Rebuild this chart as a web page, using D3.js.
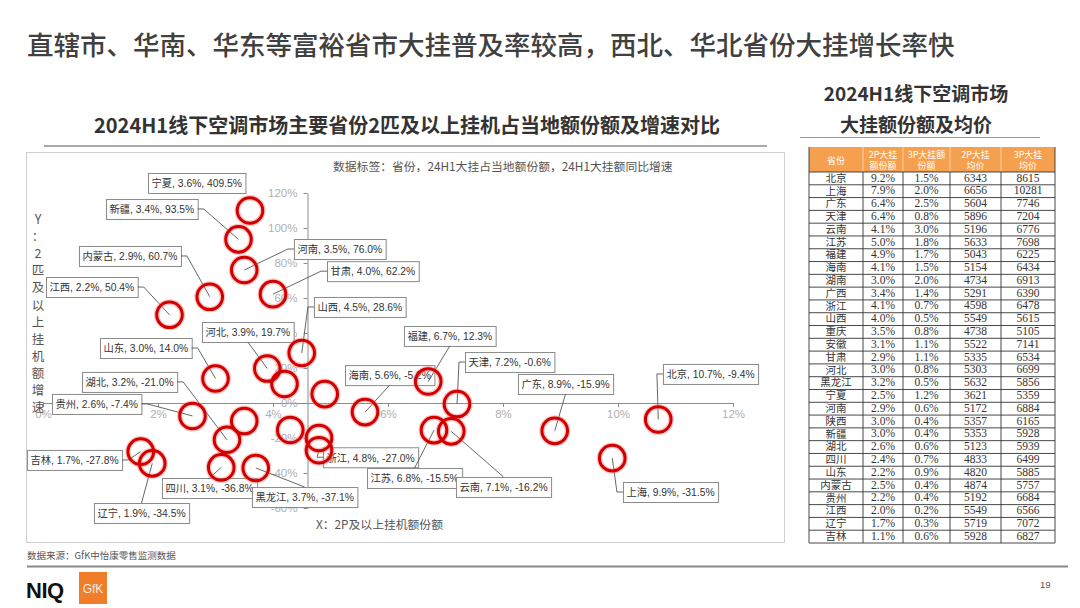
<!DOCTYPE html>
<html><head><meta charset="utf-8">
<script src="https://cdn.jsdelivr.net/npm/d3@7/dist/d3.min.js"></script>
<style>body{margin:0;background:#fff;} svg{display:block;}</style>
</head><body><svg id="c" width="1080" height="608"></svg>
<script>
// ---------- texts ----------
const pageTitle = "直辖市、华南、华东等富裕省市大挂普及率较高，西北、华北省份大挂增长率快";
const chartTitle = "2024H1线下空调市场主要省份2匹及以上挂机占当地额份额及增速对比";
const legendNote = "数据标签：省份，24H1大挂占当地额份额，24H1大挂额同比增速";
const xAxisTitle = "X：2P及以上挂机额份额";
const yAxisTitle = "Y：2匹及以上挂机额增速";
const tableTitle = ["2024H1线下空调市场", "大挂额份额及均价"];
const sourceNote = "数据来源：GfK中怡康零售监测数据";
const pageNumber = "19";

// ---------- scatter data ----------
const provinces = ["宁夏","新疆","河南","甘肃","内蒙古","江西","山西","河北","山东","福建","海南","天津","贵州","湖北","浙江","吉林","辽宁","四川","黑龙江","江苏","云南","广东","北京","上海","湖南","广西","重庆","安徽","陕西"];
const share2P = [3.6,3.4,3.5,4.0,2.9,2.2,4.5,3.9,3.0,6.7,5.6,7.2,2.6,3.2,4.8,1.7,1.9,3.1,3.7,6.8,7.1,8.9,10.7,9.9,4.9,4.3,4.8,3.5,4.2];
const growth2P = [409.5,93.5,76.0,62.2,60.7,50.4,28.6,19.7,14.0,12.3,-5.2,-0.6,-7.4,-21.0,-27.0,-27.8,-34.5,-36.8,-37.1,-15.5,-16.2,-15.9,-9.4,-31.5,5.1,-15.4,-20.0,-10.3,10.9];
const growthPlotCap = 110;      // out-of-range values drawn at the cap
const xTicks = [0,2,4,6,8,10,12];
const yTicks = [-60,-40,-20,0,20,40,60,80,100,120];
const yAxisCrossAt = 4.6;

// ---------- table data ----------
const tableHeaders = ["省份","2P大挂\n额份额","3P大挂额\n份额","2P大挂\n均价","3P大挂\n均价"];
const tableProvinces = ["北京","上海","广东","天津","云南","江苏","福建","海南","湖南","广西","浙江","山西","重庆","安徽","甘肃","河北","黑龙江","宁夏","河南","陕西","新疆","湖北","四川","山东","内蒙古","贵州","江西","辽宁","吉林"];
const tableShare2P = [9.2,7.9,6.4,6.4,4.1,5.0,4.9,4.1,3.0,3.4,4.1,4.0,3.5,3.1,2.9,3.0,3.2,2.5,2.9,3.0,3.0,2.6,2.4,2.2,2.5,2.2,2.0,1.7,1.1];
const tableShare3P = [1.5,2.0,2.5,0.8,3.0,1.8,1.7,1.5,2.0,1.4,0.7,0.5,0.8,1.1,1.1,0.8,0.5,1.2,0.6,0.4,0.4,0.6,0.7,0.9,0.4,0.4,0.2,0.3,0.6];
const tablePrice2P = [6343,6656,5604,5896,5196,5633,5043,5154,4734,5291,4598,5549,4738,5522,5335,5303,5632,3621,5172,5357,5353,5123,4833,4820,4874,5192,5549,5719,5928];
const tablePrice3P = [8615,10281,7746,7204,6776,7698,6225,6434,6913,6390,6478,5615,5105,7141,6534,6699,5856,5359,6884,6165,5928,5939,6499,5885,5757,6684,6566,7072,6827];

// ---------- label layout (offsets of label box from its point) ----------
const labelLayout = {
  "宁夏":{dx:-102,dy:-37.5,side:null}, "新疆":{dx:-132.5,dy:-40.4,side:"r"},
  "河南":{dx:49.7,dy:-31,side:"l"}, "甘肃":{dx:54,dy:-33,side:"l"},
  "内蒙古":{dx:-130.8,dy:-50.8,side:"r"}, "江西":{dx:-123.5,dy:-37.8,side:"r"},
  "山西":{dx:12.2,dy:-56,side:"l"}, "河北":{dx:-65.3,dy:-46.5,side:"b"},
  "山东":{dx:-115.5,dy:-40.5,side:"r"}, "福建":{dx:-24.3,dy:-55.5,side:"b"},
  "海南":{dx:-20,dy:-47,side:"b"}, "天津":{dx:8,dy:-52,side:"l"},
  "贵州":{dx:-140.5,dy:-22,side:"r"}, "湖北":{dx:-145,dy:-67.8,side:"r"},
  "浙江":{dx:4,dy:-3,side:"l"}, "吉林":{dx:-113.8,dy:-1.7,side:"r"},
  "辽宁":{dx:-58.3,dy:39.6,side:"t"}, "四川":{dx:-59.3,dy:10.6,side:"t"},
  "黑龙江":{dx:-3.8,dy:19.1,side:"t"}, "江苏":{dx:-67,dy:37.9,side:"t"},
  "云南":{dx:4.7,dy:45.6,side:"t"}, "广东":{dx:-36.8,dy:-56.8,side:"b"},
  "北京":{dx:4.7,dy:-55.5,side:"l"}, "上海":{dx:10.7,dy:23.9,side:"l"}
};

const svg = d3.select("#c");
const CJK = "'Noto Sans CJK SC', 'Liberation Sans', sans-serif";
const LAT = "'Liberation Sans', 'Noto Sans CJK SC', sans-serif";

svg.append("rect").attr("width",1080).attr("height",608).attr("fill","#fff");

// page title
svg.append("text").attr("x",27).attr("y",55).text(pageTitle)
  .attr("font-family",CJK).attr("font-size",26.5).attr("font-weight",500).attr("fill","#404040");

// chart subtitle + rule
svg.append("text").attr("x",407).attr("y",133).attr("text-anchor","middle").text(chartTitle)
  .attr("font-family",CJK).attr("font-size",20).attr("font-weight",700).attr("fill","#333");
svg.append("line").attr("x1",44).attr("x2",767).attr("y1",146).attr("y2",146).attr("stroke","#555").attr("stroke-width",1);

// chart frame
svg.append("rect").attr("x",26.5).attr("y",152.5).attr("width",758).attr("height",390)
  .attr("fill","none").attr("stroke","#d0d0d0");

svg.append("text").attr("x",333).attr("y",171).text(legendNote)
  .attr("font-family",CJK).attr("font-size",11.8).attr("fill","#555");

// scales
const x = d3.scaleLinear().domain([0,12]).range([43,733]);
const y = d3.scaleLinear().domain([-60,120]).range([508,193]);

const xAxis = svg.append("g").attr("transform",`translate(0,${y(0)})`)
  .call(d3.axisBottom(x).tickValues(xTicks).tickFormat(d=>d+"%").tickSize(4).tickSizeOuter(0).tickPadding(3));
const yAxis = svg.append("g").attr("transform",`translate(${x(yAxisCrossAt)},0)`)
  .call(d3.axisLeft(y).tickValues(yTicks).tickFormat(d=>d+"%").tickSize(4).tickSizeOuter(0).tickPadding(6));
[xAxis,yAxis].forEach(g=>{
  g.select(".domain").attr("stroke","#8c8c8c");
  g.selectAll(".tick line").attr("stroke","#8c8c8c");
  g.selectAll(".tick text").attr("fill","#b0b0b0").attr("font-family",LAT).attr("font-size",11.5);
});

// axis titles
svg.append("text").attr("x",316).attr("y",529).text(xAxisTitle)
  .attr("font-family",CJK).attr("font-size",11.8).attr("fill","#555");
svg.append("g").selectAll("text").data(Array.from(yAxisTitle)).join("text")
  .attr("x",38).attr("y",(d,i)=>224+i*17.1).attr("text-anchor","middle").text(d=>d)
  .attr("font-family",CJK).attr("font-size",12.5).attr("fill","#555");

// points
const pts = provinces.map((p,i)=>({
  name:p, sx:share2P[i], gy:growth2P[i],
  px:x(share2P[i]), py:y(Math.min(growth2P[i],growthPlotCap)),
  lay:labelLayout[p]
}));

const labG = svg.append("g");
const lineG = svg.append("g");
const circG = svg.append("g");

pts.filter(d=>d.lay).forEach(d=>{
  const txt = `${d.name}, ${d.sx.toFixed(1)}%, ${d.gy.toFixed(1)}%`;
  const bx = d.px + d.lay.dx, by = d.py + d.lay.dy, h = 20;
  const g = labG.append("g");
  const rect = g.append("rect").attr("x",bx+0.5).attr("y",by+0.5).attr("height",h)
    .attr("fill","#fff").attr("stroke","#8a8a8a").attr("stroke-width",1);
  const t = g.append("text").attr("x",bx+3.5).attr("y",by+14.3).text(txt)
    .attr("font-family",LAT).attr("font-size",10.3).attr("fill","#333");
  const w = t.node().getComputedTextLength() + 7;
  rect.attr("width",w);
  let pathPts;
  const s = d.lay.side;
  if (s==="l") pathPts = [[bx,by+h/2],[bx-6,by+h/2],[d.px,d.py]];
  else if (s==="r") pathPts = [[bx+w,by+h/2],[bx+w+6,by+h/2],[d.px,d.py]];
  else if (s==="t") pathPts = [[bx+w/2,by],[d.px,d.py]];
  else if (s==="b") pathPts = [[bx+w/2,by+h],[d.px,d.py]];
  if (pathPts) lineG.append("path").attr("d",d3.line()(pathPts))
    .attr("fill","none").attr("stroke","#555").attr("stroke-width",0.9);
});

circG.selectAll("circle.glow").data(pts).join("circle").attr("class","glow")
  .attr("cx",d=>d.px).attr("cy",d=>d.py).attr("r",12.8)
  .attr("fill","none").attr("stroke","#ff7a7a").attr("stroke-opacity",0.45).attr("stroke-width",5.5);
circG.selectAll("circle.pt").data(pts).join("circle").attr("class","pt")
  .attr("cx",d=>d.px).attr("cy",d=>d.py).attr("r",12.8)
  .attr("fill","none").attr("stroke","#d00000").attr("stroke-width",3);

// ---------- table ----------
tableTitle.forEach((t,i)=>{
  svg.append("text").attr("x",916).attr("y",101+i*31).attr("text-anchor","middle").text(t)
    .attr("font-family",CJK).attr("font-size",19).attr("font-weight",700).attr("fill","#333");
});
svg.append("line").attr("x1",800).attr("x2",1040).attr("y1",137.5).attr("y2",137.5).attr("stroke","#999");

const colEdges = [809,863,903,950,1001,1055];
const headTop = 147, headBottom = 172, tableBottom = 543;
const rowY = d3.scaleBand().domain(tableProvinces).range([headBottom, tableBottom]);

const tg = svg.append("g");
tg.append("rect").attr("x",colEdges[0]).attr("y",headTop).attr("width",colEdges[5]-colEdges[0])
  .attr("height",headBottom-headTop).attr("fill","#f5a04e");
tableHeaders.forEach((h,i)=>{
  const cx = (colEdges[i]+colEdges[i+1])/2;
  const lines = h.split("\n");
  lines.forEach((ln,j)=>{
    tg.append("text").attr("x",cx).attr("y", headTop + 16.5 + (j - (lines.length-1)/2)*11.5)
      .attr("text-anchor","middle").text(ln)
      .attr("font-family",CJK).attr("font-size",9).attr("fill","#fff");
  });
  if (i>0) tg.append("line").attr("x1",colEdges[i]).attr("x2",colEdges[i]).attr("y1",headTop).attr("y2",headBottom)
    .attr("stroke","#fbd2a6").attr("stroke-width",1);
});

const rows = tableProvinces.map((p,i)=>[p, tableShare2P[i].toFixed(1)+"%", tableShare3P[i].toFixed(1)+"%", String(tablePrice2P[i]), String(tablePrice3P[i])]);
rows.forEach((r,i)=>{
  const yy = rowY(tableProvinces[i]);
  r.forEach((v,j)=>{
    tg.append("text").attr("x",(colEdges[j]+colEdges[j+1])/2).attr("y",yy+rowY.bandwidth()/2+0.5)
      .attr("text-anchor","middle").attr("dominant-baseline","middle").text(v)
      .attr("font-family", j===0 ? CJK : "'Liberation Serif', serif")
      .attr("font-size", j===0 ? 10.5 : 11.5).attr("fill","#333");
  });
});
// grid
tableProvinces.forEach(p=>{
  tg.append("line").attr("x1",colEdges[0]).attr("x2",colEdges[5]).attr("y1",rowY(p)+rowY.bandwidth()).attr("y2",rowY(p)+rowY.bandwidth())
    .attr("stroke","#333").attr("stroke-width",0.9);
});
tg.append("line").attr("x1",colEdges[0]).attr("x2",colEdges[5]).attr("y1",headBottom).attr("y2",headBottom).attr("stroke","#333").attr("stroke-width",0.9);
colEdges.forEach((cx,i)=>{
  tg.append("line").attr("x1",cx).attr("x2",cx).attr("y1",(i===0||i===5)?headTop:headBottom).attr("y2",tableBottom)
    .attr("stroke","#333").attr("stroke-width",0.9);
});

// ---------- footer ----------
svg.append("text").attr("x",27).attr("y",559).text(sourceNote)
  .attr("font-family",CJK).attr("font-size",9.5).attr("fill","#555");
svg.append("line").attr("x1",27).attr("x2",1068).attr("y1",566.5).attr("y2",566.5).attr("stroke","#888").attr("stroke-width",2);
svg.append("text").attr("x",26).attr("y",598).text("NIQ")
  .attr("font-family",LAT).attr("font-size",22).attr("font-weight",700).attr("fill","#111").attr("letter-spacing",-0.5);
svg.append("rect").attr("x",79).attr("y",572).attr("width",28).attr("height",32).attr("fill","#f07d2a");
svg.append("text").attr("x",93).attr("y",593).attr("text-anchor","middle").text("GfK")
  .attr("font-family",LAT).attr("font-size",12).attr("fill","#fff").attr("opacity",0.85);
svg.append("text").attr("x",1040).attr("y",588).text(pageNumber)
  .attr("font-family",LAT).attr("font-size",9.5).attr("fill","#555");
</script></body></html>
